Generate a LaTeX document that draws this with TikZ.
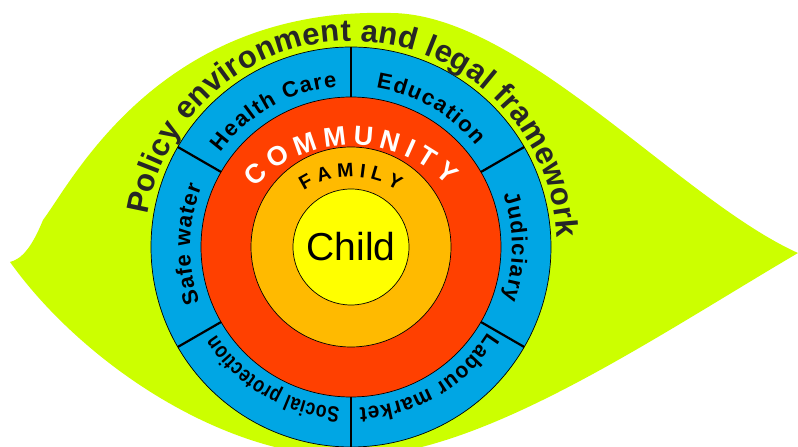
\documentclass[tikz,border=0pt]{standalone}
\usepackage{fontspec}
\setmainfont{Liberation Sans}
\newfontfamily\narrowsans[FakeStretch=0.8]{Liberation Sans}
\newfontfamily\slimsans[FakeStretch=0.95]{Liberation Sans}
\usetikzlibrary{calc,decorations.text}
\definecolor{leafgreen}{RGB}{204,255,0}
\definecolor{ringblue}{RGB}{0,166,228}
\definecolor{ringred}{RGB}{255,64,0}
\definecolor{ringorange}{RGB}{255,186,0}
\definecolor{ringyellow}{RGB}{255,255,0}
\definecolor{policygray}{RGB}{38,38,38}
\newcommand\sectorfont{\bfseries\fontsize{22}{26}\selectfont}
\tikzset{
  ring/.style={draw=black,line width=0.7pt},
  divider/.style={line width=2.2pt},
  ringtext/.style={decorate,decoration={text along path,text align=fit to path,text={#1}}}
}

\begin{document}
\begin{tikzpicture}[x=1pt,y=1pt]
\useasboundingbox (0,0) rectangle (798,447);
\coordinate (c) at (351,200);
\coordinate (cc) at (352,169);
\coordinate (fc) at (351,183);

\fill[leafgreen] (10,185) .. controls (22,188) and (32,200) .. (43,227)
  .. controls (73,267) and (160,440) .. (390,434)
  .. controls (520,434) and (680,247) .. (798,194)
  .. controls (650,107) and (480,-10) .. (350,-10)
  .. controls (220,-10) and (80,87) .. (10,185) -- cycle;

\filldraw[ring,fill=ringblue] (c) circle (200);
\filldraw[ring,fill=ringred] (c) circle (150);
\filldraw[ring,fill=ringorange] (c) circle (100);
\filldraw[ring,fill=ringyellow] (c) circle (58);

\foreach \a in {30,90,...,330}
  \draw[divider] ($(c)+(\a:150)$) -- ($(c)+(\a:200)$);

\path[ringtext={|\color{policygray}\bfseries\fontsize{31}{36}\selectfont|Policy environment and legal framework}]
  ($(c)+(171:206)$) arc[start angle=171,end angle=2.5,radius=206];

\path[ringtext={|\sectorfont|Health Care}] ($(c)+(144:161)$) arc[start angle=144,end angle=95,radius=161];
\path[ringtext={|\sectorfont|Education}] ($(c)+(81:161)$) arc[start angle=81,end angle=39,radius=161];
\path[ringtext={|\sectorfont|Judiciary}] ($(c)+(19:161)$) arc[start angle=19,end angle=-19,radius=161];
\path[ringtext={|\slimsans\sectorfont|Labour market}] ($(c)+(-32:161)$) arc[start angle=-32,end angle=-87,radius=161];
\path[ringtext={|\narrowsans\sectorfont|Social protection}] ($(c)+(-94:161)$) arc[start angle=-94,end angle=-147,radius=161];
\path[ringtext={|\sectorfont|Safe water}] ($(c)+(200:161)$) arc[start angle=200,end angle=158,radius=161];

\path[ringtext={|\color{white}\bfseries\fontsize{27}{30}\selectfont|COMMUNITY}]
  ($(cc)+(137:133)$) arc[start angle=137,end angle=44,radius=133];
\path[ringtext={|\bfseries\fontsize{19.5}{22}\selectfont|FAMILY}]
  ($(fc)+(123:87)$) arc[start angle=123,end angle=57.5,radius=87];

\node[font=\fontsize{39}{44}\selectfont] (child) at (c) {Child};
\end{tikzpicture}
\end{document}
